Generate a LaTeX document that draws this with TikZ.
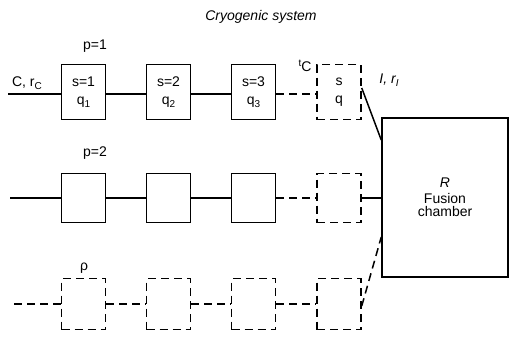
\documentclass[tikz,border=0pt]{standalone}
\usepackage{fontspec}
\setmainfont{Liberation Sans}
\newcommand{\sbs}[1]{\raisebox{-3pt}{\fontsize{10}{10}\selectfont #1}}
\begin{document}
\begin{tikzpicture}[x=1pt,y=-1pt,
  every node/.style={font=\fontsize{14}{15}\selectfont},
  bx/.style={draw,line width=1.5pt,minimum width=44pt,inner sep=0pt,align=center},
  dbx/.style={bx,dash pattern=on 8pt off 5pt},
  ln/.style={line width=1.5pt},
  dln/.style={line width=1.5pt,dash pattern=on 8pt off 5pt}]
\useasboundingbox (0,0) rectangle (513,337);
% title
\node (title) at (261,17) {\itshape Cryogenic system};
% row 1
\node[bx,minimum height=55pt] (b11) at (83.5,92) {s=1\\[3pt]q\sbs{1}};
\node[bx,minimum height=55pt] (b12) at (168.5,92) {s=2\\[3pt]q\sbs{2}};
\node[bx,minimum height=55pt] (b13) at (253.5,92) {s=3\\[3pt]q\sbs{3}};
\node[dbx,minimum height=55pt] (b14) at (339,92) {s\\[3pt]q};
% row 2
\node[bx,minimum height=49pt] (b21) at (83.5,198) {};
\node[bx,minimum height=49pt] (b22) at (168.5,198) {};
\node[bx,minimum height=49pt] (b23) at (253.5,198) {};
\node[dbx,minimum height=49pt] (b24) at (339,198) {};
% row 3
\node[dbx,minimum height=51pt] (b31) at (83.5,304) {};
\node[dbx,minimum height=51pt] (b32) at (168.5,304) {};
\node[dbx,minimum height=51pt] (b33) at (253.5,304) {};
\node[dbx,minimum height=51pt] (b34) at (339,304) {};
% chamber
\node[draw,line width=1.5pt,minimum width=126pt,minimum height=159pt,inner sep=0pt,align=center] (R) at (445,197.5) {\itshape R\\[1pt]Fusion\\[-2pt]chamber};
% labels
\node (p1) at (95,46) {p=1};
\node (p2) at (95,153) {p=2};
\node (rho) at (84,268) {ρ};
\node (Crc) at (27,83) {C, r\sbs{C}};
\node (tc) at (305,66) {\raisebox{5pt}{\fontsize{10}{10}\selectfont t}C};
\node (Irl) at (389,80) {\itshape I, r\sbs{I}};
% free ends
\coordinate (in1) at (8,94);
\coordinate (in2) at (10,198);
\coordinate (in3) at (14,304);
% connectors row 1
\draw[ln] (in1) -- (in1 -| b11.west);
\draw[ln] (b11.east |- 0,94) -- (b12.west |- 0,94);
\draw[ln] (b12.east |- 0,94) -- (b13.west |- 0,94);
\draw[dln] (b13.east |- 0,94) -- (b14.west |- 0,94);
\draw[ln] ([yshift=4pt]b14.east) -- (R.west |- 0,140);
% row 2
\draw[ln] (in2) -- (b21.west);
\draw[ln] (b21.east) -- (b22.west);
\draw[ln] (b22.east) -- (b23.west);
\draw[dln] (b23.east) -- (b24.west);
\draw[ln] (b24.east) -- (R.west |- b24.east);
% row 3
\draw[dln] (in3) -- (b31.west);
\draw[dln] (b31.east) -- (b32.west);
\draw[dln] (b32.east) -- (b33.west);
\draw[dln] (b33.east) -- (b34.west);
\draw[dln] ([yshift=-2pt]b34.east) -- (R.west |- 0,237);
\end{tikzpicture}
\end{document}
